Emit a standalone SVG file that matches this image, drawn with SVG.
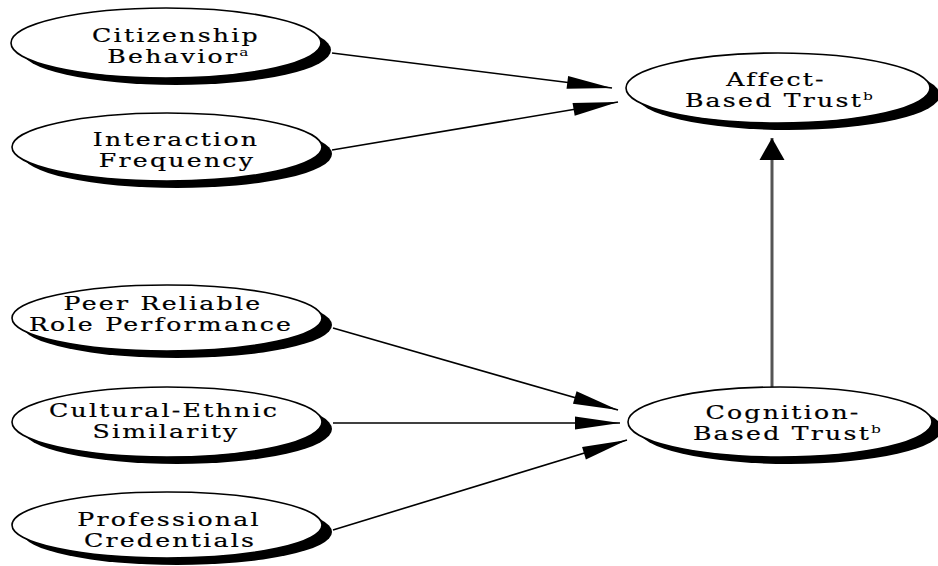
<svg xmlns="http://www.w3.org/2000/svg" width="938" height="566" viewBox="0 0 938 566">
<defs>
<style>
.sh{fill:#000;}
.el{fill:#fff;stroke:#000;stroke-width:1.6;}
.t{font-family:"DejaVu Serif","Liberation Serif",serif;font-size:18px;fill:#000;stroke:#000;stroke-width:0.2;text-anchor:middle;letter-spacing:1.6px;}
.sup{font-size:11px;stroke-width:0;}
.ln{stroke:#000;stroke-width:1.6;fill:none;}
.lv{stroke:#555;stroke-width:3;fill:none;}
</style>
<marker id="ah" markerUnits="userSpaceOnUse" markerWidth="46" markerHeight="14" refX="45" refY="6.5" orient="auto" overflow="visible"><path d="M0,0 L45,6.5 L0,13 Z" fill="#000"/></marker>
<marker id="ahv" markerUnits="userSpaceOnUse" markerWidth="23" markerHeight="26" refX="22" refY="12.5" orient="auto" overflow="visible"><path d="M0,0 L22,12.5 L0,25 Z" fill="#000"/></marker>
</defs>
<rect width="938" height="566" fill="#fff"/>

<g id="connectors">
<line class="ln" x1="332" y1="53" x2="612" y2="88" marker-end="url(#ah)"/>
<line class="ln" x1="332" y1="150" x2="618" y2="102" marker-end="url(#ah)"/>
<line class="ln" x1="333" y1="328" x2="618" y2="410" marker-end="url(#ah)"/>
<line class="ln" x1="333" y1="423" x2="620" y2="423" marker-end="url(#ah)"/>
<line class="ln" x1="333" y1="530" x2="627" y2="440" marker-end="url(#ah)"/>
<line class="lv" x1="772" y1="387" x2="772" y2="138" marker-end="url(#ahv)"/>
</g>

<g id="citizenship">
<ellipse class="sh" cx="176" cy="50" rx="155" ry="35"/>
<ellipse class="el" cx="166" cy="43" rx="155" ry="35"/>
<text class="t" transform="translate(176,42) scale(1.4,1)">Citizenship</text>
<text class="t" transform="translate(179,63) scale(1.4,1)">Behavior<tspan class="sup" dy="-7">a</tspan></text>
</g>

<g id="interaction">
<ellipse class="sh" cx="177" cy="154" rx="155" ry="34"/>
<ellipse class="el" cx="167" cy="147" rx="155" ry="34"/>
<text class="t" transform="translate(176,146) scale(1.4,1)">Interaction</text>
<text class="t" transform="translate(177,167) scale(1.4,1)">Frequency</text>
</g>

<g id="peer">
<ellipse class="sh" cx="177" cy="325" rx="155" ry="33"/>
<ellipse class="el" cx="167" cy="318" rx="155" ry="33"/>
<text class="t" transform="translate(163,310) scale(1.4,1)">Peer Reliable</text>
<text class="t" transform="translate(161,331) scale(1.4,1)">Role Performance</text>
</g>

<g id="cultural">
<ellipse class="sh" cx="177" cy="429" rx="155" ry="35"/>
<ellipse class="el" cx="167" cy="422" rx="155" ry="35"/>
<text class="t" transform="translate(164,417) scale(1.4,1)">Cultural-Ethnic</text>
<text class="t" transform="translate(166,438) scale(1.4,1)">Similarity</text>
</g>

<g id="professional">
<ellipse class="sh" cx="177" cy="532" rx="155" ry="33"/>
<ellipse class="el" cx="167" cy="525" rx="155" ry="33"/>
<text class="t" transform="translate(169,526) scale(1.4,1)">Professional</text>
<text class="t" transform="translate(170,547) scale(1.4,1)">Credentials</text>
</g>

<g id="affect">
<ellipse class="sh" cx="788" cy="95" rx="152" ry="35"/>
<ellipse class="el" cx="778" cy="88" rx="152" ry="35"/>
<text class="t" transform="translate(776,86) scale(1.4,1)">Affect-</text>
<text class="t" transform="translate(780,107) scale(1.4,1)">Based Trust<tspan class="sup" dy="-7">b</tspan></text>
</g>

<g id="cognition">
<ellipse class="sh" cx="790" cy="429" rx="152" ry="35"/>
<ellipse class="el" cx="780" cy="422" rx="152" ry="35"/>
<text class="t" transform="translate(783,419) scale(1.4,1)">Cognition-</text>
<text class="t" transform="translate(788,440) scale(1.4,1)">Based Trust<tspan class="sup" dy="-7">b</tspan></text>
</g>
</svg>
